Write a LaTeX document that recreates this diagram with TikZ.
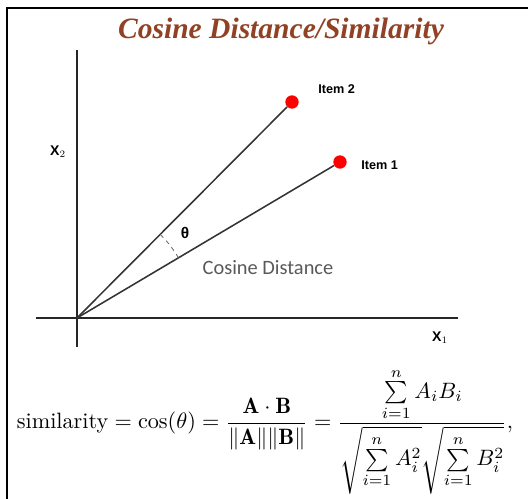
\documentclass[tikz,border=0pt]{standalone}
\usepackage{amsmath}
\usepackage{fontspec}
\setsansfont{Liberation Sans}
\newfontfamily\calfont{Carlito}
\newfontfamily\titlefont{Liberation Serif}
\definecolor{titlebrown}{RGB}{145,66,36}
\begin{document}
\begin{tikzpicture}[x=0.025cm, y=0.025cm]
  \tikzstyle{axis}=[line width=2pt,black!85]
  \tikzstyle{vec}=[line width=1.1pt,black!80]
  \tikzstyle{item}=[circle,fill=red,inner sep=0pt,minimum size=9.5pt]
  \tikzstyle{itemlabel}=[font=\sffamily\bfseries\fontsize{9}{10}\selectfont,anchor=west,inner sep=0pt]
  \tikzstyle{axlabel}=[font=\sffamily\bfseries\fontsize{10}{11}\selectfont,inner sep=0pt]
  \useasboundingbox (0,0) rectangle (528,499);
  % frame
  \draw[line width=2pt] (7,-5) -- (7,491) -- (540,491);
  % title
  \node[font=\titlefont\bfseries\itshape\fontsize{21}{24}\selectfont,text=titlebrown] (title) at (281,468) {Cosine Distance/Similarity};
  % axes
  \coordinate (o) at (77,181);
  \coordinate (ytop) at (77,449);
  \coordinate (ybot) at (77,152);
  \coordinate (xl) at (36,181);
  \coordinate (xr) at (458,181);
  \draw[axis] (ybot) -- (ytop);
  \draw[axis] (xl) -- (xr);
  \node[axlabel] (x2) at (58,347) {X$_2$};
  \node[axlabel] (x1) at (440,161) {X$_1$};
  % items
  \node[item] (it2) at (292,397) {};
  \node[item] (it1) at (340,337) {};
  \node[itemlabel] (l2) at (318,410) {Item 2};
  \node[itemlabel] (l1) at (361,334) {Item 1};
  \draw[vec] (o) -- (it2);
  \draw[vec] (o) -- (it1);
  % angle
  \draw[dashed,black!60,line width=0.6pt] (o) ++(30.7:118) arc (30.7:45:118);
  \node[font=\sffamily\bfseries\fontsize{11}{12}\selectfont] (theta) at (185,266) {θ};
  \node[font=\calfont\fontsize{14.5}{16}\selectfont,text=black!65] (cd) at (268,231) {Cosine Distance};
  % formula
  \node[scale=1.58,anchor=base] (eq) at (265,70) {$\displaystyle \text{similarity} = \cos(\theta) = {\mathbf{A}\cdot\mathbf{B} \over \|\mathbf{A}\|\|\mathbf{B}\|} = \frac{\sum\limits_{i=1}^{n} A_i B_i}{\sqrt{\sum\limits_{i=1}^{n} A_i^2}\sqrt{\sum\limits_{i=1}^{n} B_i^2}},$};
\end{tikzpicture}
\end{document}
